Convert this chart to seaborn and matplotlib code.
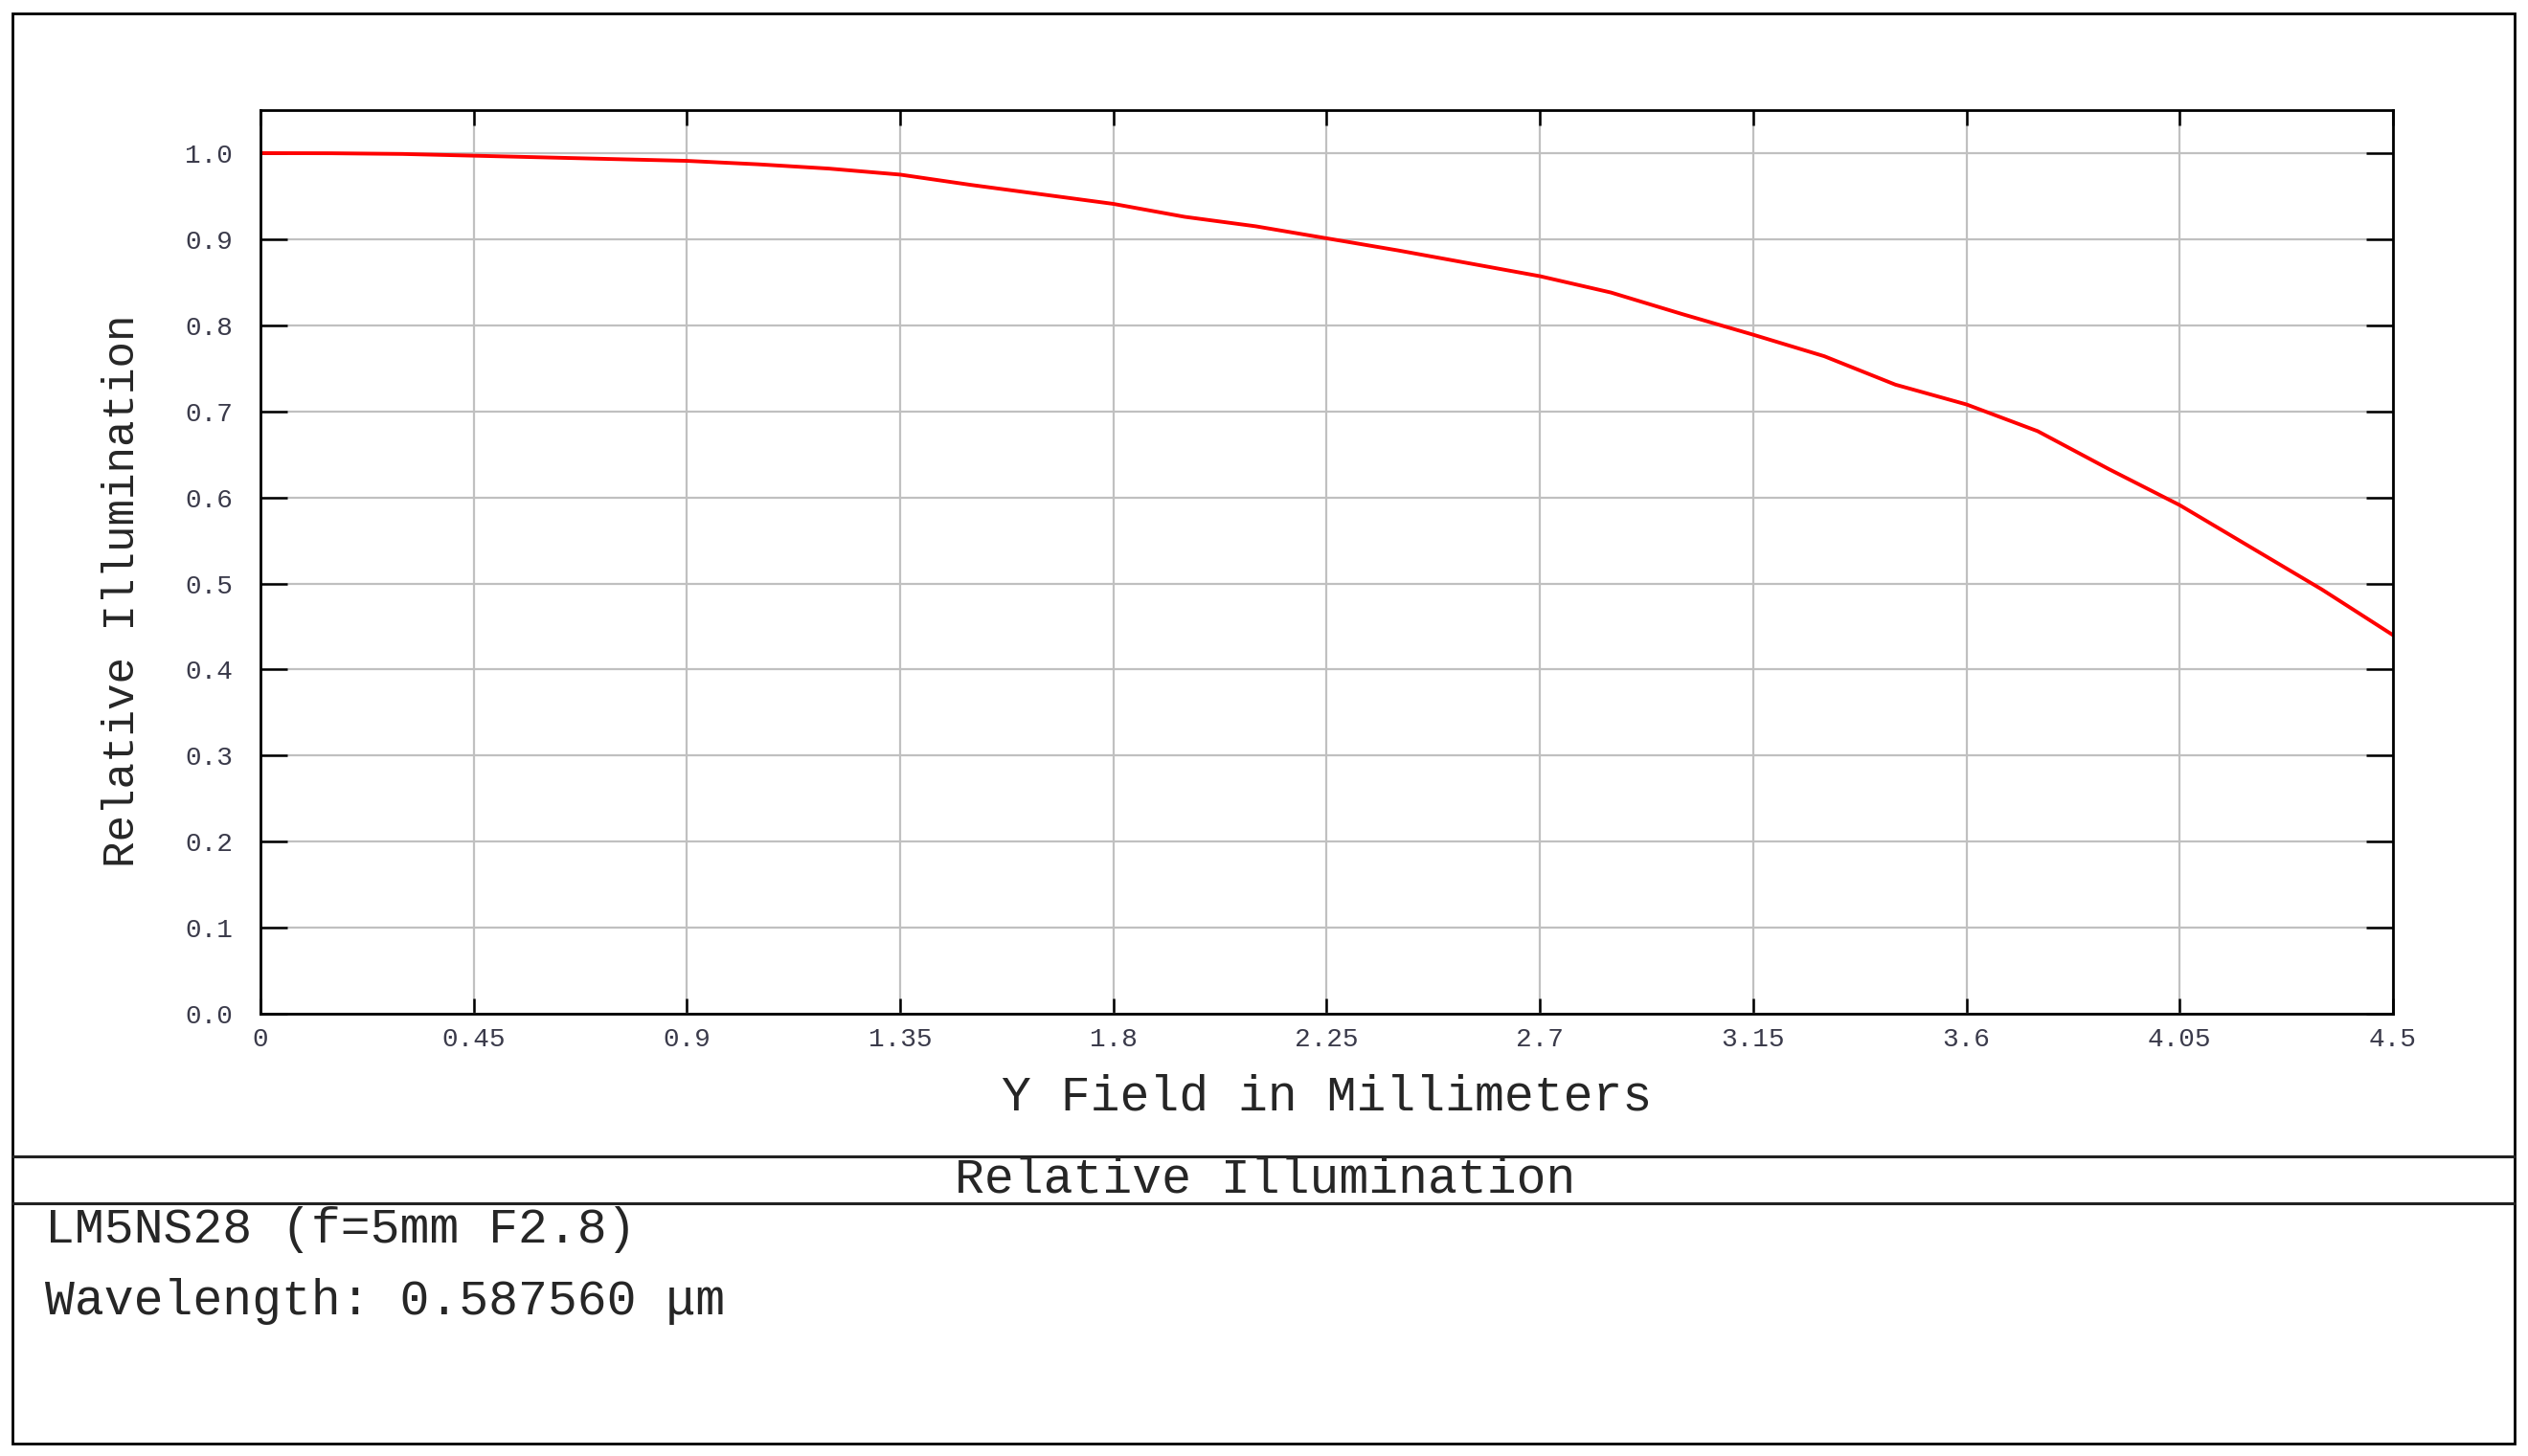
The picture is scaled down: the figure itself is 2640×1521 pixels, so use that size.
import matplotlib
matplotlib.use("Agg")
import matplotlib.pyplot as plt
from matplotlib.lines import Line2D
from matplotlib.patches import Rectangle
import seaborn as sns

# Relative illumination vs Y field
y_field = [0.00, 0.15, 0.30, 0.45, 0.60, 0.75, 0.90, 1.05, 1.20, 1.35, 1.50,
           1.65, 1.80, 1.95, 2.10, 2.25, 2.40, 2.55, 2.70, 2.85, 3.00, 3.15,
           3.30, 3.45, 3.60, 3.75, 3.90, 4.05, 4.20, 4.35, 4.50]
rel_illum = [1.000, 0.9998, 0.999, 0.997, 0.995, 0.993, 0.991, 0.987, 0.982,
             0.975, 0.963, 0.952, 0.941, 0.926, 0.915, 0.901, 0.887, 0.872,
             0.857, 0.838, 0.813, 0.789, 0.764, 0.731, 0.708, 0.677, 0.633,
             0.591, 0.542, 0.493, 0.440]

x_ticks = [0, 0.45, 0.9, 1.35, 1.8, 2.25, 2.7, 3.15, 3.6, 4.05, 4.5]
x_tick_labels = ["0", "0.45", "0.9", "1.35", "1.8", "2.25", "2.7", "3.15",
                 "3.6", "4.05", "4.5"]
y_ticks = [0.0, 0.1, 0.2, 0.3, 0.4, 0.5, 0.6, 0.7, 0.8, 0.9, 1.0]

sns.set_style("white")
plt.rcParams["font.family"] = ["Liberation Mono", "DejaVu Sans Mono"]

fig = plt.figure(figsize=(26.4, 15.21), dpi=100)
ax = fig.add_axes([0.103, 0.3037, 0.8436, 0.6207])

sns.lineplot(x=y_field, y=rel_illum, ax=ax, color="#ff0000", linewidth=2.8)

ax.set_xlim(0, 4.5)
ax.set_ylim(0, 1.05)
ax.set_xticks(x_ticks)
ax.set_xticklabels(x_tick_labels)
ax.set_yticks(y_ticks)
ax.set_yticklabels([f"{v:.1f}" for v in y_ticks])

ax.grid(True, color="#c0c0c0", linewidth=1.6)
ax.set_axisbelow(True)
for s in ax.spines.values():
    s.set_color("black")
    s.set_linewidth(2.0)

tick_color = "#3a3a4a"
ax.tick_params(axis="x", direction="in", length=11.5, width=1.8,
               top=True, bottom=True, labelsize=20, pad=10,
               labelcolor=tick_color, color="black")
ax.tick_params(axis="y", direction="in", length=20, width=1.8,
               left=True, right=True, labelsize=20, pad=21,
               labelcolor=tick_color, color="black")

ax.set_xlabel("Y Field in Millimeters", fontsize=37, va="center")
ax.xaxis.set_label_coords(0.5, -0.092)
ax.set_ylabel("Relative Illumination", fontsize=33, va="center")
ax.yaxis.set_label_coords(-0.0647, 0.468)

# outer frame and title band
fig.patches.append(Rectangle((0.0051, 0.0085), 0.9896, 0.9826,
                             transform=fig.transFigure, fill=False,
                             edgecolor="black", linewidth=2.0))
for yy in (0.2058, 0.1736):
    fig.lines.append(Line2D([0.0051, 0.9947], [yy, yy],
                            transform=fig.transFigure, color="#222222",
                            linewidth=2.2))

fig.text(0.5003, 0.1897, "Relative Illumination", fontsize=37,
         ha="center", va="center")
fig.text(0.0178, 0.1558, "LM5NS28 (f=5mm F2.8)", fontsize=37,
         ha="left", va="center")
fig.text(0.0178, 0.1059, "Wavelength: 0.587560 \u03bcm", fontsize=37,
         ha="left", va="center")

fig.savefig("out.png", dpi=100)
